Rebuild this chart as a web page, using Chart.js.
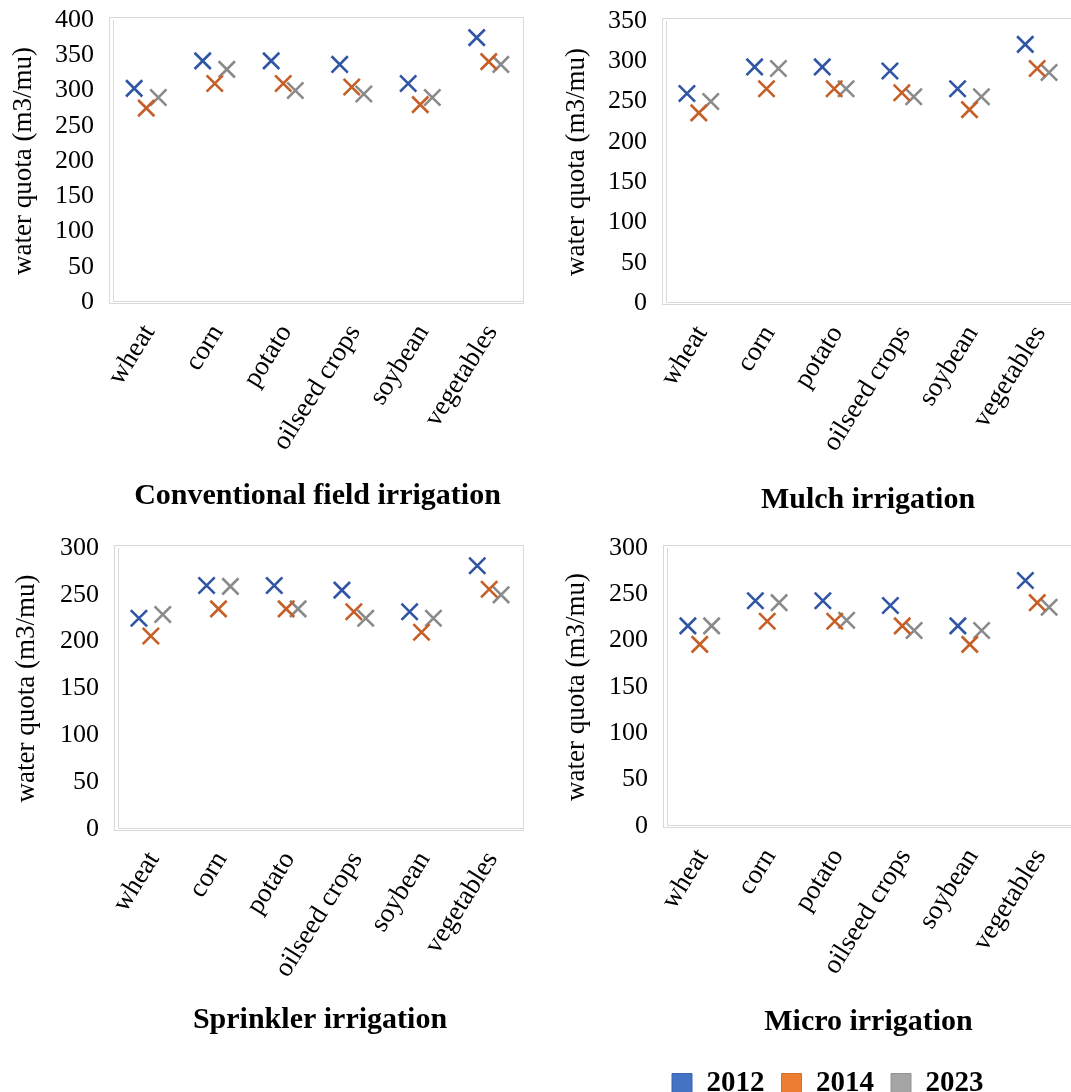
<!DOCTYPE html>
<html>
<head>
<meta charset="utf-8">
<script src="https://cdn.jsdelivr.net/npm/chart.js@4/dist/chart.umd.min.js"></script>
<style>
  html, body { margin: 0; padding: 0; background: #fff; overflow: hidden; width: 1071px; height: 1092px; }
  canvas { position: absolute; }
</style>
</head>
<body>
<canvas id="conventional"></canvas>
<canvas id="mulch"></canvas>
<canvas id="sprinkler"></canvas>
<canvas id="micro"></canvas>
<script>
// ---- data ----
const crops = ['wheat', 'corn', 'potato', 'oilseed crops', 'soybean', 'vegetables'];
const years = ['2012', '2014', '2023'];

const conventional2012 = [303, 342, 342, 337, 310, 375];
const conventional2014 = [275, 310, 310, 305, 280, 341];
const conventional2023 = [290, 330, 300, 295, 290, 337];

const mulch2012 = [260, 293, 293, 288, 266, 321];
const mulch2014 = [236, 266, 266, 261, 240, 291];
const mulch2023 = [250, 291, 266, 256, 256, 286];

const sprinkler2012 = [225, 260, 260, 255, 232, 281];
const sprinkler2014 = [206, 235, 235, 232, 210, 256];
const sprinkler2023 = [229, 259, 235, 225, 225, 250];

const micro2012 = [216, 243, 243, 238, 216, 265];
const micro2014 = [196, 221, 221, 216, 196, 241];
const micro2023 = [216, 241, 222, 211, 211, 236];

const yTitle = 'water quota (m3/mu)';

// ---- styling ----
const SERIF = '"Liberation Serif", "Times New Roman", serif';
const markColors = ['#2F55A4', '#C65F27', '#8A8A8A'];
const swatchColors = ['#4472C4', '#ED7D31', '#A5A5A5'];
const swatchBorders = ['#3A63AE', '#D46F2A', '#949494'];
const FRAME = '#D9D9D9';
const SHIFT = 0.176;          // horizontal spread of the three years inside a crop slot
const TITLE_SIZE = 30, TITLE_PAD = 8;
const Y_TITLE_SIZE = 27;

// plot frame: outer border plus the inner axis lines
const framePlugin = {
  id: 'plotFrame',
  beforeDatasetsDraw(chart) {
    const {ctx, chartArea: a} = chart;
    const l = Math.round(a.left), r = Math.round(a.right), t = Math.round(a.top), b = Math.round(a.bottom);
    ctx.save();
    ctx.strokeStyle = FRAME;
    ctx.lineWidth = 1;
    ctx.strokeRect(l - 2.5, t - 2.5, r - l + 3, b - t + 4);
    ctx.beginPath();
    ctx.moveTo(l + 1.5, t);
    ctx.lineTo(l + 1.5, b - 0.5);
    ctx.lineTo(r, b - 0.5);
    ctx.stroke();
    ctx.restore();
  }
};

// nudges the legend row horizontally
const legendShift = {
  id: 'legendShift',
  afterLayout(chart, args, opts) {
    if (chart.legend && opts.dx) {
      chart.legend.left += opts.dx;
      chart.legend.right += opts.dx;
    }
  }
};

const panels = [
  { id: 'conventional', title: 'Conventional field irrigation', yMax: 400,
    series: [conventional2012, conventional2014, conventional2023],
    box: {x: 0, y: 0, w: 535, h: 528}, area: {l: 112, t: 20, r: 523, b: 302}, titleY: 496, yTitleX: 24 },
  { id: 'mulch', title: 'Mulch irrigation', yMax: 350,
    series: [mulch2012, mulch2014, mulch2023],
    box: {x: 540, y: 0, w: 531, h: 528}, area: {l: 665, t: 21, r: 1071, b: 303}, titleY: 500, yTitleX: 577 },
  { id: 'sprinkler', title: 'Sprinkler irrigation', yMax: 300,
    series: [sprinkler2012, sprinkler2014, sprinkler2023],
    box: {x: 0, y: 528, w: 535, h: 540}, area: {l: 117, t: 548, r: 523, b: 829}, titleY: 1020, yTitleX: 27 },
  { id: 'micro', title: 'Micro irrigation', yMax: 300,
    series: [micro2012, micro2014, micro2023],
    box: {x: 540, y: 528, w: 531, h: 582}, area: {l: 666, t: 548, r: 1071, b: 826}, titleY: 1022, yTitleX: 577,
    legend: true }
];

panels.forEach(p => {
  const cv = document.getElementById(p.id);
  cv.width = p.box.w; cv.height = p.box.h;
  cv.style.left = p.box.x + 'px'; cv.style.top = p.box.y + 'px';

  const titleLH = TITLE_SIZE * 1.2;
  const titlePadBottom = p.legend ? 12 : TITLE_PAD;
  const titleH = titleLH + TITLE_PAD + titlePadBottom;
  const xAxisH = (p.titleY - TITLE_PAD - titleLH / 2) - p.area.b;
  const legendPad = 17, legendItemH = 29;
  const legendH = p.legend ? legendItemH + legendPad + 10 : 0;
  const padTop = p.area.t - p.box.y;
  const padRight = p.box.x + p.box.w - p.area.r;
  const padBottom = p.box.h - (p.area.b - p.box.y) - xAxisH - titleH - legendH;
  const yAxisW = p.area.l - p.box.x;
  const yTitlePad = (p.yTitleX - p.box.x) - Y_TITLE_SIZE * 1.2 / 2;

  new Chart(cv, {
    type: 'scatter',
    data: {
      datasets: years.map((yr, k) => ({
        label: yr,
        data: p.series[k].map((v, i) => ({x: i + (k - 1) * SHIFT, y: v})),
        pointStyle: 'crossRot',
        pointRadius: 11.5,
        pointHoverRadius: 11.5,
        pointBorderWidth: 2.6,
        pointHoverBorderWidth: 2.6,
        borderColor: markColors[k],
        backgroundColor: swatchColors[k],
        showLine: false
      }))
    },
    options: {
      responsive: false,
      animation: false,
      events: [],
      layout: { autoPadding: false, padding: { left: 0, top: padTop, right: padRight, bottom: padBottom } },
      scales: {
        x: {
          type: 'linear', min: -0.5, max: 5.5,
          afterBuildTicks: s => { s.ticks = crops.map((_, i) => ({value: i})); },
          afterFit: s => { s.height = xAxisH; s.paddingLeft = 0; s.paddingRight = 0; },
          grid: { display: false, drawTicks: false },
          border: { display: false },
          ticks: {
            autoSkip: false, minRotation: 58, maxRotation: 58, padding: 17, labelOffset: 3,
            color: '#000', font: { family: SERIF, size: 27 },
            callback: v => crops[v]
          }
        },
        y: {
          min: 0, max: p.yMax,
          afterFit: s => { s.width = yAxisW; s.paddingTop = 0; s.paddingBottom = 0; },
          grid: { display: false, drawTicks: false },
          border: { display: false },
          ticks: { stepSize: 50, padding: 18, color: '#000', font: { family: SERIF, size: 26 } },
          title: {
            display: true, text: yTitle, color: '#000',
            font: { family: SERIF, size: Y_TITLE_SIZE, lineHeight: 1.2 },
            padding: { top: yTitlePad, bottom: 0 }
          }
        }
      },
      plugins: {
        tooltip: { enabled: false },
        title: {
          display: true, text: p.title, position: 'bottom', fullSize: false, weight: 500,
          color: '#000', font: { family: SERIF, size: TITLE_SIZE, weight: 'bold', lineHeight: 1.2 },
          padding: { top: TITLE_PAD, bottom: titlePadBottom }
        },
        legend: {
          display: !!p.legend, position: 'bottom', align: 'start', fullSize: false,
          labels: {
            boxWidth: 20, boxHeight: 20, padding: legendPad, color: '#000',
            font: { family: SERIF, size: 29, weight: 'bold' },
            generateLabels: chart => Chart.defaults.plugins.legend.labels.generateLabels(chart)
              .map((item, k) => Object.assign(item, { fillStyle: swatchColors[k], strokeStyle: swatchBorders[k], lineWidth: 1 }))
          }
        },
        legendShift: { dx: -11 }
      }
    },
    plugins: [framePlugin, legendShift]
  });
});
</script>
</body>
</html>
